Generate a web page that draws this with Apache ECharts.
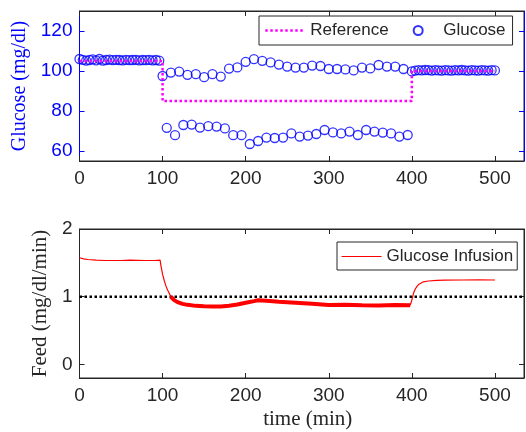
<!DOCTYPE html>
<html>
<head>
<meta charset="utf-8">
<script src="https://cdn.jsdelivr.net/npm/echarts@6/dist/echarts.min.js"></script>
<style>
html, body { margin: 0; padding: 0; background: #fff; }
#chart { width: 526px; height: 432px; }
</style>
</head>
<body>
<div id="chart"></div>
<script>
// glucose measurements (time in min, glucose in mg/dl)
var firstT = [0, 4, 8, 12, 16, 20, 24, 28, 32, 36, 40, 44, 48, 52, 56, 60, 64, 68, 72, 76, 80, 84, 88, 92, 96];
var firstV = [106, 105.6, 105.2, 105.5, 105.8, 105.3, 106, 105.2, 105.5, 105.7, 105.4, 105.6, 105.5, 105.3, 105.6, 105.4, 105.5, 105.6, 105.3, 105.5, 105.4, 105.6, 105.3, 105.5, 105.2];

var upperT = [100, 110, 120, 130, 140, 150, 160, 170, 180, 190, 200, 210, 220, 230, 240, 250, 260, 270, 280, 290, 300, 310, 320, 330, 340, 350, 360, 370, 380, 390];
var upperV = [97.5, 99.2, 99.7, 98.1, 98.4, 96.9, 98.4, 97.2, 101.2, 101.8, 104.6, 105.9, 105.1, 104.3, 103.2, 102.2, 101.7, 101.7, 102.7, 102.5, 101, 101, 100.8, 100.3, 101.7, 101.3, 103, 102.2, 102.2, 101];

var lowerT = [105, 115, 125, 135, 145, 155, 165, 175, 185, 195, 205, 215, 225, 235, 245, 255, 265, 275, 285, 295, 305, 315, 325, 335, 345, 355, 365, 375, 385, 395];
var lowerV = [71.6, 67.9, 73, 73.2, 71.7, 72.4, 72.2, 71.3, 67.9, 67.9, 63.5, 65, 66.7, 66.5, 66.7, 68.8, 67.2, 67.7, 68.5, 70.5, 69.3, 68.8, 69.7, 68, 70.5, 69.7, 69.2, 68.8, 67.2, 68];

var lastT = [400, 404, 408, 412, 416, 420, 424, 428, 432, 436, 440, 444, 448, 452, 456, 460, 464, 468, 472, 476, 480, 484, 488, 492, 496, 500];
var lastV = [99.8, 100.2, 100.4, 100.3, 100.5, 100.4, 100.2, 100.4, 100.3, 100.2, 100.4, 100.3, 100.2, 100.4, 100.3, 100.5, 100.3, 100.2, 100.4, 100.3, 100.2, 100.4, 100.3, 100.2, 100.4, 100.3];

// reference trajectory
var refT = [0, 100, 100, 400, 400, 500];
var refV = [105, 105, 85, 85, 100, 100];

// glucose infusion (mg/dl/min)
var infT1 = [0, 5, 10, 20, 30, 40, 50, 60, 70, 80, 90, 97, 98, 100, 102, 104, 106, 108, 110];
var infV1 = [1.575, 1.56, 1.55, 1.54, 1.535, 1.535, 1.535, 1.54, 1.538, 1.535, 1.535, 1.54, 1.46, 1.33, 1.24, 1.16, 1.1, 1.05, 1.0];
var infT2 = [110, 114, 118, 124, 130, 140, 150, 160, 170, 180, 190, 200, 210, 215, 225, 240, 260, 280, 300, 320, 340, 360, 380, 398];
var infV2 = [1.0, 0.95, 0.92, 0.895, 0.88, 0.865, 0.858, 0.855, 0.857, 0.868, 0.885, 0.91, 0.935, 0.948, 0.94, 0.925, 0.91, 0.895, 0.877, 0.88, 0.874, 0.87, 0.878, 0.875];
var infT3 = [398, 400, 402, 404, 406, 408, 410, 414, 420, 430, 440, 460, 480, 500];
var infV3 = [0.875, 0.95, 1.05, 1.11, 1.15, 1.18, 1.2, 1.22, 1.232, 1.24, 1.245, 1.247, 1.25, 1.247];

var feedSetT = [0, 535];
var feedSetV = [1, 1];

var xTicks = [0, 100, 200, 300, 400, 500];
var glucTicks = [60, 80, 100, 120];
var feedTicks = [0, 1, 2];

function pairs(t, v) {
    var d = [];
    for (var i = 0; i < t.length; i++) d.push([t[i], v[i]]);
    return d;
}

var glucoseData = pairs(firstT, firstV)
    .concat(pairs(upperT, upperV))
    .concat(pairs(lowerT, lowerV))
    .concat(pairs(lastT, lastV));

var sans = 'Liberation Sans';
var serif = 'Liberation Serif';
var dark = '#262626';
var blue = '#0000ff';

function xAx(grid, pos, labels) {
    return {
        type: 'value', gridIndex: grid, position: pos, min: 0, max: 535,
        axisLine: { show: true, onZero: false, lineStyle: { color: dark, width: 1 } },
        axisTick: { show: true, inside: true, length: 5, customValues: xTicks, lineStyle: { color: dark } },
        axisLabel: { show: labels, customValues: xTicks, margin: 8, color: dark, fontFamily: sans, fontSize: 19 },
        splitLine: { show: false }
    };
}

function yAx(grid, pos, min, max, ticks, color, labels) {
    return {
        type: 'value', gridIndex: grid, position: pos, min: min, max: max,
        axisLine: { show: true, onZero: false, lineStyle: { color: color, width: 1 } },
        axisTick: { show: true, inside: true, length: 5, customValues: ticks, lineStyle: { color: color } },
        axisLabel: { show: labels, customValues: ticks, margin: 7, color: color, fontFamily: sans, fontSize: 19 },
        splitLine: { show: false }
    };
}

var chart = echarts.init(document.getElementById('chart'));

var yTop = yAx(0, 'left', 55, 130, glucTicks, blue, true);
yTop.name = 'Glucose (mg/dl)';
yTop.nameLocation = 'middle';
yTop.nameGap = 50;
yTop.nameTextStyle = { color: blue, fontFamily: serif, fontSize: 20 };

var yBot = yAx(1, 'left', -0.2, 2, feedTicks, dark, true);
yBot.name = 'Feed (mg/dl/min)';
yBot.nameLocation = 'middle';
yBot.nameGap = 21;
yBot.nameTextStyle = { color: dark, fontFamily: serif, fontSize: 21 };

var xBot = xAx(1, 'bottom', true);
xBot.name = 'time (min)';
xBot.nameLocation = 'middle';
xBot.nameGap = 31;
xBot.nameTextStyle = { color: dark, fontFamily: serif, fontSize: 21, padding: [0, 0, 0, 12] };

var option = {
    animation: false,
    backgroundColor: '#fff',
    grid: [
        { left: 79.5, top: 11, width: 444.5, height: 150, show: true, borderColor: dark, borderWidth: 1, backgroundColor: '#fff' },
        { left: 79.5, top: 229, width: 444.5, height: 149, show: true, borderColor: dark, borderWidth: 1, backgroundColor: '#fff' }
    ],
    xAxis: [
        xAx(0, 'bottom', true),
        xAx(0, 'top', false),
        xBot,
        xAx(1, 'top', false)
    ],
    yAxis: [
        yTop,
        yAx(0, 'right', 55, 130, glucTicks, blue, false),
        yBot,
        yAx(1, 'right', -0.2, 2, feedTicks, dark, false)
    ],
    legend: [
        {
            data: [
                { name: 'Reference', itemStyle: { opacity: 0 }, lineStyle: { width: 2.5, opacity: 1 } },
                { name: 'Glucose' }
            ],
            left: 259, top: 16,
            padding: [6, 7, 6, 5],
            itemWidth: 40, itemHeight: 9, itemGap: 24,
            borderColor: dark, borderWidth: 1, backgroundColor: '#fff',
            textStyle: { color: dark, fontFamily: sans, fontSize: 17 }
        },
        {
            data: [
                { name: 'Glucose Infusion', itemStyle: { opacity: 0 }, lineStyle: { width: 1.2, opacity: 1 } }
            ],
            left: 337, top: 242,
            padding: [6, 4, 5, 4],
            itemWidth: 40, itemHeight: 9,
            borderColor: dark, borderWidth: 1, backgroundColor: '#fff',
            textStyle: { color: dark, fontFamily: sans, fontSize: 17 }
        }
    ],
    series: [
        {
            name: 'Reference', type: 'line', xAxisIndex: 0, yAxisIndex: 0,
            data: pairs(refT, refV), symbol: 'none',
            lineStyle: { color: '#ff00ff', width: 2.5, type: 'dotted' },
            itemStyle: { color: '#ff00ff' }
        },
        {
            name: 'Glucose', type: 'scatter', xAxisIndex: 0, yAxisIndex: 0,
            data: glucoseData, symbol: 'circle', symbolSize: 9,
            itemStyle: { color: 'rgba(0,0,0,0)', borderColor: blue, borderWidth: 1.3 }
        },
        {
            name: 'Setpoint', type: 'line', xAxisIndex: 2, yAxisIndex: 2,
            data: pairs(feedSetT, feedSetV), symbol: 'none',
            lineStyle: { color: '#000', width: 2.5, type: 'dotted' }
        },
        {
            name: 'Glucose Infusion', type: 'line', xAxisIndex: 2, yAxisIndex: 2,
            data: pairs(infT1, infV1), symbol: 'none',
            lineStyle: { color: '#ff0000', width: 1.2 }, itemStyle: { color: '#ff0000' }
        },
        {
            name: 'Glucose Infusion', type: 'line', xAxisIndex: 2, yAxisIndex: 2,
            data: pairs(infT2, infV2), symbol: 'none',
            lineStyle: { color: '#ff0000', width: 4 }, itemStyle: { color: '#ff0000' }
        },
        {
            name: 'Glucose Infusion', type: 'line', xAxisIndex: 2, yAxisIndex: 2,
            data: pairs(infT3, infV3), symbol: 'none',
            lineStyle: { color: '#ff0000', width: 1.2 }, itemStyle: { color: '#ff0000' }
        }
    ]
};

chart.setOption(option);
</script>
</body>
</html>
